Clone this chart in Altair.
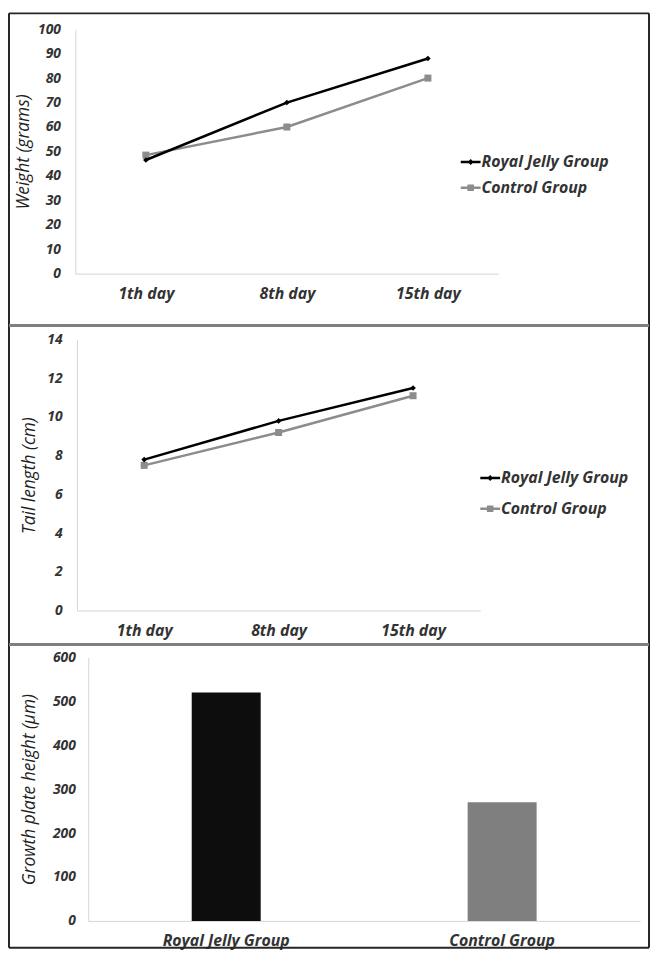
import altair as alt
import pandas as pd

# ---------------- data ----------------
days = ["1th day", "8th day", "15th day"]
groups = ["Royal Jelly Group", "Control Group"]
weight_royal = [46.5, 70, 88]
weight_control = [48.5, 60, 80]
tail_royal = [7.8, 9.8, 11.5]
tail_control = [7.5, 9.2, 11.1]
plate_height = [520, 270]

weight_ticks = list(range(0, 101, 10))
tail_ticks = list(range(0, 15, 2))
plate_ticks = list(range(0, 601, 100))

# ---------------- styles / layout ----------------
W, H = 648, 946
line_colors = ["#000000", "#8c8c8c"]
bar_colors = ["#0d0d0d", "#7f7f7f"]
FONT = "Open Sans"
LABEL_COLOR = "#333333"
TITLE_COLOR = "#1f1f1f"
AXIS_COLOR = "#d4d4d4"
OUTER = "#262626"
DIVIDER = "#7f7f7f"

LEG_DIAMOND = "M-1,-0.12H1V0.12H-1Z M0,-0.3L0.3,0L0,0.3L-0.3,0Z"
LEG_SQUARE = "M-1,-0.12H1V0.12H-1Z M-0.33,-0.33H0.33V0.33H-0.33Z"


def long_df(royal, control):
    rows = []
    for d, v in zip(days, royal):
        rows.append({"Day": d, "Group": groups[0], "Value": v})
    for d, v in zip(days, control):
        rows.append({"Day": d, "Group": groups[1], "Value": v})
    return pd.DataFrame(rows)


frame_df = pd.DataFrame({"k": [0]})


def vrule(x, y1, y2, color, sw):
    return alt.Chart(frame_df).mark_rule(color=color, strokeWidth=sw).encode(
        x=alt.value(x), y=alt.value(y1), y2=alt.value(y2))


def hrule(y, x1, x2, color, sw):
    return alt.Chart(frame_df).mark_rule(color=color, strokeWidth=sw).encode(
        y=alt.value(y), x=alt.value(x1), x2=alt.value(x2))


def y_axis(title, values, left, title_x, title_y, pad):
    return alt.Axis(
        title=title, values=values, orient="left", offset=-left,
        grid=False, ticks=False, tickSize=0,
        domainColor=AXIS_COLOR, domainWidth=1,
        labelFont=FONT, labelFontSize=14, labelFontStyle="italic",
        labelFontWeight="bold", labelColor=LABEL_COLOR, labelPadding=pad,
        titleFont=FONT, titleFontSize=17.5, titleFontStyle="italic",
        titleFontWeight="normal", titleColor=TITLE_COLOR,
        titleX=title_x, titleY=title_y, titleAngle=270,
        titleAlign="center", titleBaseline="middle")


def x_axis(bottom):
    return alt.Axis(
        title=None, orient="bottom", offset=bottom - H, labelAngle=0,
        grid=False, ticks=False, tickSize=0,
        domainColor=AXIS_COLOR, domainWidth=1,
        labelFont=FONT, labelFontSize=16, labelFontStyle="italic",
        labelFontWeight="bold", labelColor=LABEL_COLOR, labelPadding=12)


def make_legend(x, y, row_pad):
    return alt.Legend(
        title=None, orient="none", legendX=x, legendY=y,
        symbolSize=400, symbolOpacity=1, symbolStrokeWidth=0,
        labelFont=FONT, labelFontSize=16, labelFontStyle="italic",
        labelFontWeight="bold", labelColor=LABEL_COLOR, labelOffset=1,
        rowPadding=row_pad, padding=0, labelLimit=300)


def line_panel(df, ytitle, ymax, yticks, left, right, top, bottom,
               title_x, pad, leg_x, leg_y, row_pad):
    X = alt.X("Day:N", sort=days,
              scale=alt.Scale(type="point", padding=0.5, range=[left, right]),
              axis=x_axis(bottom))
    Y = alt.Y("Value:Q",
              scale=alt.Scale(domain=[0, ymax], nice=False, range=[bottom, top]),
              axis=y_axis(ytitle, yticks, left, title_x, (top + bottom) / 2, pad))
    base = alt.Chart(df)
    ctrl_line = base.transform_filter(alt.datum.Group == groups[1]).mark_line(
        color=line_colors[1], strokeWidth=2.5).encode(x=X, y=Y)
    ctrl_pts = base.transform_filter(alt.datum.Group == groups[1]).mark_point(
        shape="square", filled=True, size=50, opacity=1, color=line_colors[1]).encode(x=X, y=Y)
    rj_line = base.transform_filter(alt.datum.Group == groups[0]).mark_line(
        color=line_colors[0], strokeWidth=2.5).encode(x=X, y=Y)
    rj_pts = base.transform_filter(alt.datum.Group == groups[0]).mark_point(
        shape="diamond", filled=True, size=32, opacity=1, color=line_colors[0]).encode(x=X, y=Y)
    leg = make_legend(leg_x, leg_y, row_pad)
    legend_layer = base.mark_point(filled=True, opacity=0).encode(
        x=X, y=Y,
        color=alt.Color("Group:N", scale=alt.Scale(domain=groups, range=line_colors), legend=leg),
        shape=alt.Shape("Group:N", scale=alt.Scale(domain=groups, range=[LEG_DIAMOND, LEG_SQUARE]),
                        legend=leg))
    return alt.layer(ctrl_line, ctrl_pts, rj_line, rj_pts, legend_layer)


# ---------------- panel 1 : weight ----------------
p1 = line_panel(long_df(weight_royal, weight_control), "Weight (grams)", 100, weight_ticks,
                left=68, right=495, top=17, bottom=263.7,
                title_x=-52, pad=15, leg_x=457, leg_y=141, row_pad=8)

# ---------------- panel 2 : tail length ----------------
p2 = line_panel(long_df(tail_royal, tail_control), "Tail length (cm)", 14, tail_ticks,
                left=69.6, right=476.7, top=330.3, bottom=603.7,
                title_x=-48, pad=15, leg_x=476.7, leg_y=460, row_pad=13)

# ---------------- panel 3 : growth plate ----------------
B_LEFT, B_RIGHT, B_TOP, B_BOTTOM = 81, 638, 651, 917
bar_df = pd.DataFrame({"Group": groups, "Height": plate_height})
p3 = alt.Chart(bar_df).mark_bar().encode(
    x=alt.X("Group:N", sort=groups,
            scale=alt.Scale(paddingInner=0.75, paddingOuter=0.375, range=[B_LEFT, B_RIGHT]),
            axis=x_axis(B_BOTTOM)),
    y=alt.Y("Height:Q",
            scale=alt.Scale(domain=[0, 600], nice=False, range=[B_BOTTOM, B_TOP]),
            axis=y_axis("Growth plate height (\u03bcm)", plate_ticks, B_LEFT, -59,
                        (B_TOP + B_BOTTOM) / 2, 13)),
    color=alt.Color("Group:N", scale=alt.Scale(domain=groups, range=bar_colors), legend=None),
)

# ---------------- frame ----------------
frame = [
    hrule(1, 1, 647, OUTER, 2),
    vrule(1, 1, 944, OUTER, 2),
    vrule(647, 1, 944, OUTER, 2),
    hrule(316, 1, 647, DIVIDER, 3),
    hrule(638, 1, 647, DIVIDER, 3),
    hrule(944, 1, 647, OUTER, 2),
]

chart = alt.layer(*frame, p1, p2, p3).resolve_scale(
    x="independent", y="independent", color="independent", shape="independent"
).properties(
    width=W, height=H, padding=0, autosize=alt.AutoSizeParams(type="none")
).configure_view(stroke=None)

chart.save("out.html", embed_options={"renderer": "svg", "actions": False})
